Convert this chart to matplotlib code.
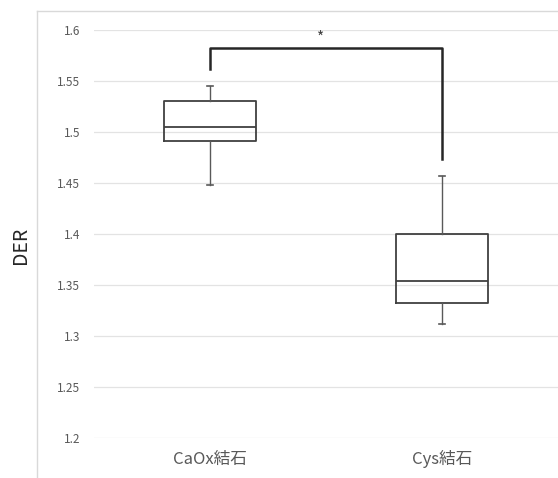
import matplotlib
matplotlib.use("Agg")
import matplotlib.pyplot as plt
from matplotlib.lines import Line2D

# box plot summary values
categories = ["CaOx結石", "Cys結石"]
whisker_low = [1.448, 1.312]
q1 = [1.491, 1.332]
median = [1.505, 1.354]
q3 = [1.530, 1.400]
whisker_high = [1.545, 1.457]

y_ticks = [1.2, 1.25, 1.3, 1.35, 1.4, 1.45, 1.5, 1.55, 1.6]
y_tick_labels = ["1.2", "1.25", "1.3", "1.35", "1.4", "1.45", "1.5", "1.55", "1.6"]

# significance bracket: left foot, top, right foot
bracket_y = [1.562, 1.582, 1.474]
sig_label = "*"

plt.rcParams["font.family"] = ["Noto Sans CJK JP", "DejaVu Sans"]

W, H = 558, 478
fig = plt.figure(figsize=(W / 100, H / 100), dpi=100)
ax = fig.add_axes([94 / W, 1 - 438 / H, 1 - 94 / W, (438 - 30) / H])

stats = []
for i, name in enumerate(categories):
    stats.append({
        "label": name,
        "whislo": whisker_low[i],
        "q1": q1[i],
        "med": median[i],
        "q3": q3[i],
        "whishi": whisker_high[i],
        "fliers": [],
    })

positions = list(range(1, len(categories) + 1))
ax.bxp(
    stats,
    positions=positions,
    widths=0.4,
    capwidths=0.025,
    showfliers=False,
    boxprops=dict(color="#404040", linewidth=1.3),
    medianprops=dict(color="#404040", linewidth=1.3),
    whiskerprops=dict(color="#595959", linewidth=1.0),
    capprops=dict(color="#595959", linewidth=1.2),
)

# significance bracket
ax.plot(
    [positions[0], positions[0], positions[1], positions[1]],
    [bracket_y[0], bracket_y[1], bracket_y[1], bracket_y[2]],
    color="#262626", linewidth=1.8, clip_on=False,
)
ax.text(1.478, bracket_y[1] + 0.002, sig_label, ha="center", va="bottom",
        fontsize=11, color="#404040")

ax.set_xlim(0.5, 2.5)
ax.set_ylim(1.2, 1.6)
ax.set_yticks(y_ticks)
ax.set_yticklabels(y_tick_labels)
ax.set_xticks(positions)
ax.set_xticklabels(categories)
ax.grid(True, axis="y", color="#e3e3e3", linewidth=0.9)
ax.set_axisbelow(True)
for s in ax.spines.values():
    s.set_visible(False)
ax.tick_params(axis="y", length=0, pad=10, labelsize=8.5, labelcolor="#595959")
ax.tick_params(axis="x", length=0, pad=9, labelsize=12, labelcolor="#595959")

# chart-area border (top and left, runs off the image)
fig.add_artist(Line2D([37 / W, 37 / W], [0, 1 - 11 / H], transform=fig.transFigure,
                      color="#d9d9d9", linewidth=1.0))
fig.add_artist(Line2D([37 / W, 1], [1 - 11 / H, 1 - 11 / H], transform=fig.transFigure,
                      color="#d9d9d9", linewidth=1.0))

fig.text(20 / W, 1 - 245 / H, "DER", rotation=90, ha="center", va="center",
         fontsize=14, color="#262626")

fig.savefig("out.png", dpi=100)
